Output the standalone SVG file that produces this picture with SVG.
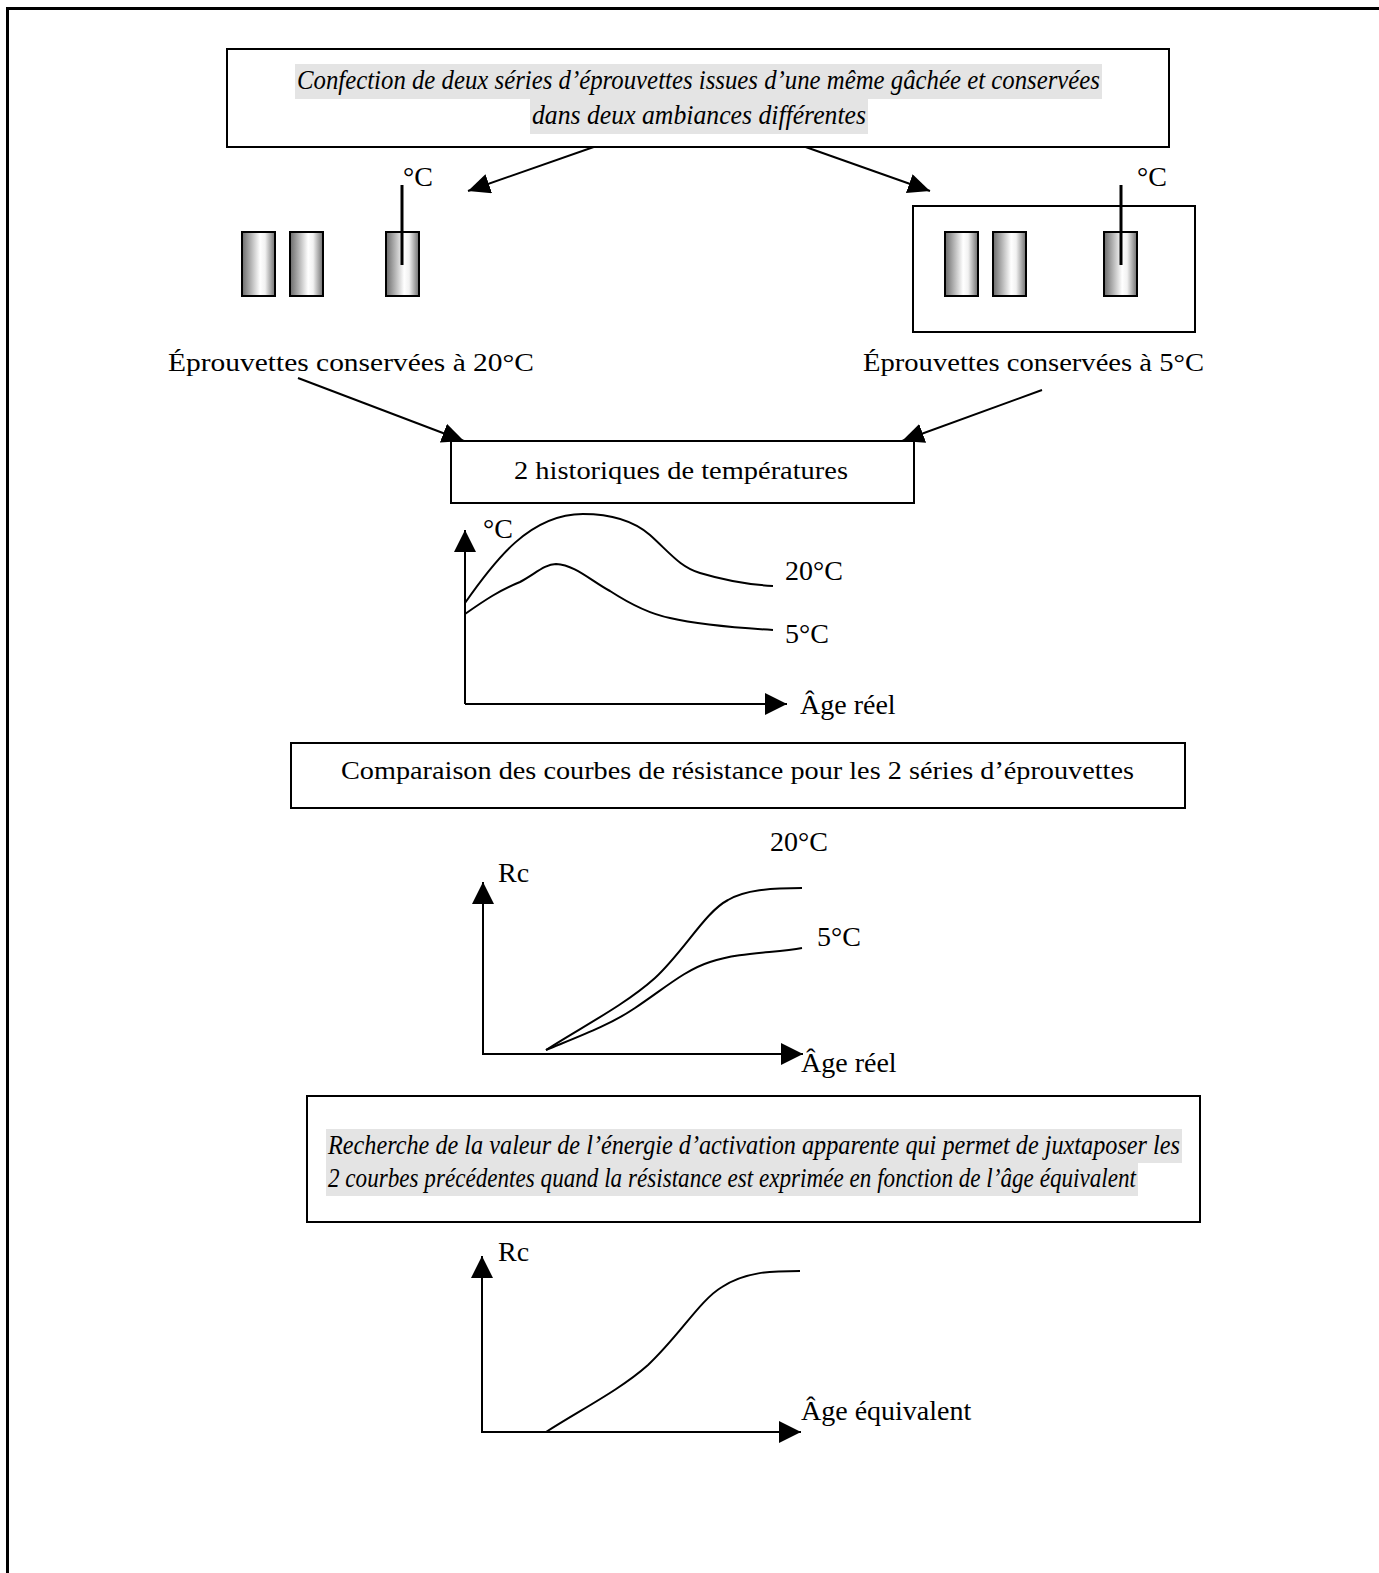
<svg xmlns="http://www.w3.org/2000/svg" width="1379" height="1573" viewBox="0 0 1379 1573">
<style>
  .t { font-family: "Liberation Serif", "DejaVu Serif", serif; font-size: 26px; fill: #000; }
  .tl { font-family: "Liberation Serif", "DejaVu Serif", serif; font-size: 28px; fill: #000; }
  .ti { font-family: "Liberation Serif", "DejaVu Serif", serif; font-style: italic; font-size: 27px; fill: #000; }
  .box { fill: #fff; stroke: #000; stroke-width: 2; }
  .hl { fill: #e4e4e4; }
  .cyl { fill: url(#cylgrad); stroke: #000; stroke-width: 2; }
  .line { stroke: #000; stroke-width: 2; fill: none; }
  .thermo { stroke: #000; stroke-width: 3; }
  .curve { stroke: #000; stroke-width: 2; fill: none; }
</style>
<defs>
  <linearGradient id="cylgrad" x1="0" y1="0" x2="1" y2="0">
    <stop offset="0" stop-color="#6a6a6a"/>
    <stop offset="0.55" stop-color="#ffffff"/>
    <stop offset="0.7" stop-color="#f2f2f2"/>
    <stop offset="1" stop-color="#6e6e6e"/>
  </linearGradient>
  <marker id="arr" markerUnits="userSpaceOnUse" markerWidth="26" markerHeight="22" refX="22" refY="10" orient="auto">
    <path d="M0,0 L22,10 L0,20 Z" fill="#000"/>
  </marker>
  <marker id="axarr" markerUnits="userSpaceOnUse" markerWidth="26" markerHeight="24" refX="22" refY="11" orient="auto">
    <path d="M0,0 L22,11 L0,22 Z" fill="#000"/>
  </marker>
</defs>

<rect width="1379" height="1573" fill="#fff"/>
<path d="M7.5,1573 V8.5 H1379" fill="none" stroke="#000" stroke-width="3"/>

<g id="connectors">
  <line class="line" x1="608" y1="142" x2="468" y2="191" marker-end="url(#arr)"/>
  <line class="line" x1="800" y1="145" x2="930" y2="191" marker-end="url(#arr)"/>
  <line class="line" x1="298" y1="378" x2="464" y2="441" marker-end="url(#arr)"/>
  <line class="line" x1="1042" y1="390" x2="902" y2="441" marker-end="url(#arr)"/>
</g>

<g id="node-confection">
  <rect class="box" x="227" y="49" width="942" height="98"/>
  <rect class="hl" x="295" y="64" width="807" height="35"/>
  <rect class="hl" x="530" y="99" width="338" height="35"/>
  <text class="ti" x="297" y="89" textLength="803" lengthAdjust="spacingAndGlyphs">Confection de deux séries d’éprouvettes issues d’une même gâchée et conservées</text>
  <text class="ti" x="532" y="124" textLength="334" lengthAdjust="spacingAndGlyphs">dans deux ambiances différentes</text>
</g>

<g id="node-serie-20">
  <rect class="cyl" x="242" y="232" width="33" height="64"/>
  <rect class="cyl" x="290" y="232" width="33" height="64"/>
  <rect class="cyl" x="386" y="232" width="33" height="64"/>
  <line class="thermo" x1="402" y1="185" x2="402" y2="265"/>
  <text class="tl" x="403" y="186">°C</text>
  <text class="t" x="168" y="371" textLength="366" lengthAdjust="spacingAndGlyphs">Éprouvettes conservées à 20°C</text>
</g>

<g id="node-serie-5">
  <rect class="box" x="913" y="206" width="282" height="126"/>
  <rect class="cyl" x="945" y="232" width="33" height="64"/>
  <rect class="cyl" x="993" y="232" width="33" height="64"/>
  <rect class="cyl" x="1104" y="232" width="33" height="64"/>
  <line class="thermo" x1="1121" y1="185" x2="1121" y2="265"/>
  <text class="tl" x="1137" y="186">°C</text>
  <text class="t" x="863" y="371" textLength="341" lengthAdjust="spacingAndGlyphs">Éprouvettes conservées à 5°C</text>
</g>

<g id="node-historiques">
  <rect class="box" x="451" y="441" width="463" height="62"/>
  <text class="t" x="514" y="479" textLength="334" lengthAdjust="spacingAndGlyphs">2 historiques de températures</text>
</g>

<g id="graph-temperatures">
  <line class="line" x1="465" y1="704" x2="465" y2="530" marker-end="url(#axarr)"/>
  <line class="line" x1="465" y1="704" x2="787" y2="704" marker-end="url(#axarr)"/>
  <text class="tl" x="483" y="538">°C</text>
  <path class="curve" d="M465,603 C495,560 530,514 583,514 C615,514 635,522 650,535 C670,553 680,567 700,573 C730,582 755,585 773,586"/>
  <path class="curve" d="M465,614 C485,600 500,590 520,582 C535,574 545,564 556,564 C575,565 590,580 610,591 C630,604 650,614 670,618 C700,625 740,628 773,630"/>
  <text class="tl" x="785" y="580">20°C</text>
  <text class="tl" x="785" y="643">5°C</text>
  <text class="tl" x="800" y="714">Âge réel</text>
</g>

<g id="node-comparaison">
  <rect class="box" x="291" y="743" width="894" height="65"/>
  <text class="t" x="341" y="779" textLength="793" lengthAdjust="spacingAndGlyphs">Comparaison des courbes de résistance pour les 2 séries d’éprouvettes</text>
</g>

<g id="graph-resistance">
  <line class="line" x1="483" y1="1054" x2="483" y2="882" marker-end="url(#axarr)"/>
  <line class="line" x1="482" y1="1054" x2="803" y2="1054" marker-end="url(#axarr)"/>
  <text class="tl" x="498" y="882">Rc</text>
  <path class="curve" d="M546,1050 C580,1028 625,1005 655,978 C685,950 705,912 728,900 C745,890 770,888 802,888"/>
  <path class="curve" d="M546,1050 C580,1036 610,1025 635,1008 C665,988 685,970 710,962 C740,952 775,953 802,948"/>
  <text class="tl" x="770" y="851">20°C</text>
  <text class="tl" x="817" y="946">5°C</text>
  <text class="tl" x="801" y="1072">Âge réel</text>
</g>

<g id="node-recherche">
  <rect class="box" x="307" y="1096" width="893" height="126"/>
  <rect class="hl" x="326" y="1129" width="856" height="34"/>
  <rect class="hl" x="326" y="1163" width="812" height="33"/>
  <text class="ti" x="328" y="1154" textLength="852" lengthAdjust="spacingAndGlyphs">Recherche de la valeur de l’énergie d’activation apparente qui permet de juxtaposer les</text>
  <text class="ti" x="328" y="1187" textLength="808" lengthAdjust="spacingAndGlyphs">2 courbes précédentes quand la résistance est exprimée en fonction de l’âge équivalent</text>
</g>

<g id="graph-equivalent">
  <line class="line" x1="482" y1="1432" x2="482" y2="1256" marker-end="url(#axarr)"/>
  <line class="line" x1="481" y1="1432" x2="801" y2="1432" marker-end="url(#axarr)"/>
  <text class="tl" x="498" y="1261">Rc</text>
  <path class="curve" d="M546,1432 C580,1410 620,1390 648,1365 C680,1335 700,1300 722,1287 C745,1272 770,1271 800,1271"/>
  <text class="tl" x="801" y="1420">Âge équivalent</text>
</g>
</svg>
